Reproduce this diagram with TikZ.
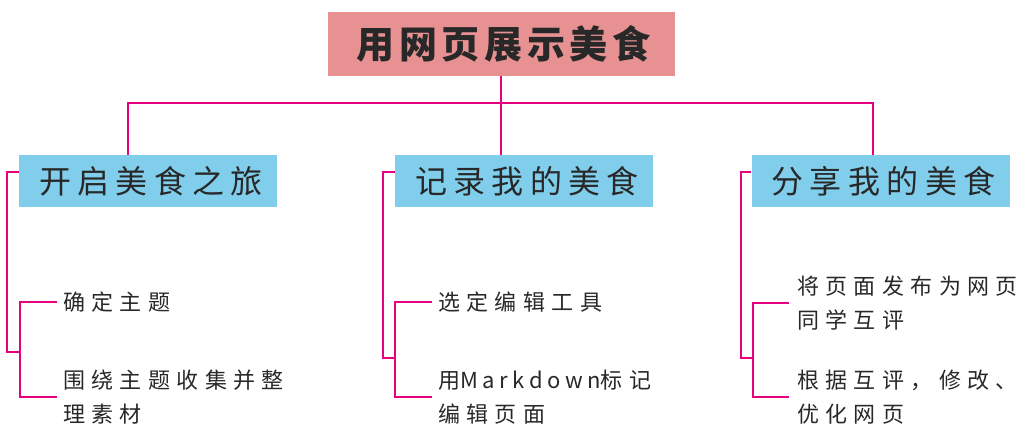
\documentclass[tikz,border=0pt]{standalone}
\usepackage{fontspec}
\newfontfamily\cjktop[LetterSpace=12]{Noto Sans CJK SC}
\newfontfamily\cjksec[LetterSpace=20]{Noto Sans CJK SC}
\newfontfamily\cjkitem[LetterSpace=29]{Noto Sans CJK SC}
\newfontfamily\latitem[LetterSpace=21]{Noto Sans CJK SC}
\usetikzlibrary{positioning}
\definecolor{toppink}{RGB}{231,145,146}
\definecolor{secblue}{RGB}{128,206,236}
\definecolor{linkred}{RGB}{230,0,126}
\definecolor{textgray}{RGB}{40,40,40}

\begin{document}
\begin{tikzpicture}[x=1pt, y=-1pt,
	topbox/.style={rectangle, fill=toppink, inner sep=0pt, text=textgray,
				font=\cjktop\bfseries\fontsize{38}{40}\selectfont,
				minimum width=347pt, minimum height=64pt},
	secbox/.style={rectangle, fill=secblue, inner sep=0pt, text=textgray,
				font=\cjksec\fontsize{32}{34}\selectfont,
				minimum width=258pt, minimum height=52pt},
	item/.style={anchor=west, align=left, inner sep=0pt, text=textgray,
				font=\cjkitem\fontsize{22}{34}\selectfont},
	link/.style={draw=linkred, line width=1.6pt},
]
\useasboundingbox (0,0) rectangle (1023,426);
\node [topbox] (top) at (501.5,44) {\hspace*{4pt}用网页展示美食};
\node [secbox] (b1) at (148,181) {\hspace*{6pt}开启美食之旅};
\node [secbox] (b2) at (524,181) {\hspace*{6pt}记录我的美食};
\node [secbox] (b3) at (880.5,181) {\hspace*{6pt}分享我的美食};
%
\node [item] (i11) at (63,302) {确定主题};
\node [item] (i12) at (63,397) {围绕主题收集并整\\理素材};
\node [item] (i21) at (438,302) {选定编辑工具};
\node [item] (i22) at (438,397) {用{\latitem Markdown}标记\\编辑页面};
\node [item] (i31) at (797,303) {将页面发布为网页\\同学互评};
\node [item] (i32) at (797,397) {根据互评，修改、\\优化网页};
%
\coordinate (v) at (501,103);
\coordinate (h1) at (128,103);
\coordinate (h3) at (873,103);
\draw [link] (top.south -| v) -- (b2.north -| v);
\draw [link] (b1.north -| h1) -- (h1) -- (h3) -- (b3.north -| h3);
%
\coordinate (o1) at (7,172);
\coordinate (n1) at (20,352);
\coordinate (o2) at (383,172);
\coordinate (n2) at (395,358);
\coordinate (o3) at (741,172);
\coordinate (n3) at (753,358);
\draw [link] (b1.west |- o1) -- (o1) |- (n1);
\draw [link] ([xshift=-6pt]i11.west) -| (n1) |- ([xshift=-6pt]i12.west);
\draw [link] (b2.west |- o2) -- (o2) |- (n2);
\draw [link] ([xshift=-6pt]i21.west) -| (n2) |- ([xshift=-6pt]i22.west);
\draw [link] (b3.west |- o3) -- (o3) |- (n3);
\draw [link] ([xshift=-8pt]i31.west) -| (n3) |- ([xshift=-8pt]i32.west);
\end{tikzpicture}
\end{document}
